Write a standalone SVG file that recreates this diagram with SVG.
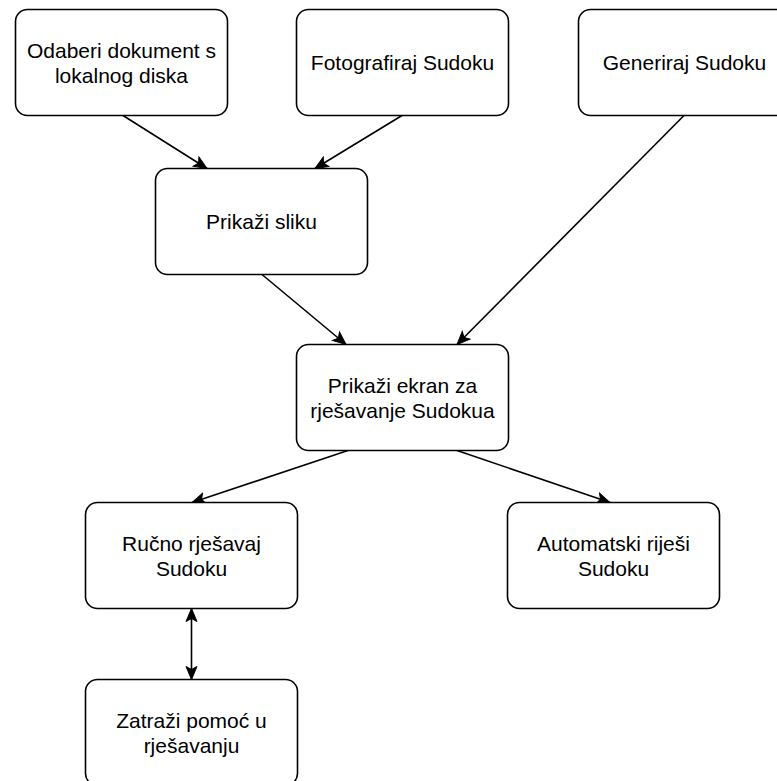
<svg xmlns="http://www.w3.org/2000/svg" width="777" height="781" viewBox="0 0 777 781">
<style>
.n rect{fill:#fff;stroke:#000;stroke-width:1.6}
.n text{font-family:"Liberation Sans",Arial,Helvetica,sans-serif;font-size:21px;fill:#000;text-anchor:middle}
.e line{stroke:#000;stroke-width:1.6;fill:none;marker-end:url(#ah)}
</style>
<defs>
<marker id="ah" viewBox="-14 -7 16 14" refX="0" refY="0" markerWidth="16" markerHeight="14" markerUnits="userSpaceOnUse" orient="auto-start-reverse">
<path d="M0,0 L-13,-5.5 L-10,0 L-13,5.5 Z" fill="#000" stroke="#000" stroke-width="1"/>
</marker>
</defs>
<rect width="777" height="781" fill="#fff"/>
<g class="e" id="connectors">
<line x1="123" y1="115.5" x2="207" y2="168.5"/>
<line x1="402" y1="115.5" x2="315" y2="168.5"/>
<line x1="684" y1="115.5" x2="457" y2="344.5"/>
<line x1="262" y1="274.5" x2="346" y2="344.5"/>
<line x1="348" y1="450.5" x2="192" y2="502.5"/>
<line x1="457" y1="450.5" x2="610" y2="502.5"/>
<line x1="191.5" y1="608.5" x2="191.5" y2="679.5" marker-start="url(#ah)"/>
</g>
<g class="n" id="n1"><rect x="15.5" y="9.5" width="212" height="106" rx="12"/><text x="121.5" y="57.5">Odaberi dokument s</text><text x="121.5" y="82.5">lokalnog diska</text></g>
<g class="n" id="n2"><rect x="296.5" y="9.5" width="212" height="106" rx="12"/><text x="402.5" y="70">Fotografiraj Sudoku</text></g>
<g class="n" id="n3"><rect x="578.5" y="9.5" width="212" height="106" rx="12"/><text x="684.5" y="70">Generiraj Sudoku</text></g>
<g class="n" id="n4"><rect x="155.5" y="168.5" width="212" height="106" rx="12"/><text x="261.5" y="229">Prikaži sliku</text></g>
<g class="n" id="n5"><rect x="296.5" y="344.5" width="212" height="106" rx="12"/><text x="402.5" y="392.5">Prikaži ekran za</text><text x="402.5" y="417.5">rješavanje Sudokua</text></g>
<g class="n" id="n6"><rect x="85.5" y="502.5" width="212" height="106" rx="12"/><text x="191.5" y="550.5">Ručno rješavaj</text><text x="191.5" y="575.5">Sudoku</text></g>
<g class="n" id="n7"><rect x="507.5" y="502.5" width="212" height="106" rx="12"/><text x="613.5" y="550.5">Automatski riješi</text><text x="613.5" y="575.5">Sudoku</text></g>
<g class="n" id="n8"><rect x="85.5" y="679.5" width="212" height="106" rx="12"/><text x="191.5" y="727.5">Zatraži pomoć u</text><text x="191.5" y="752.5">rješavanju</text></g>
</svg>
